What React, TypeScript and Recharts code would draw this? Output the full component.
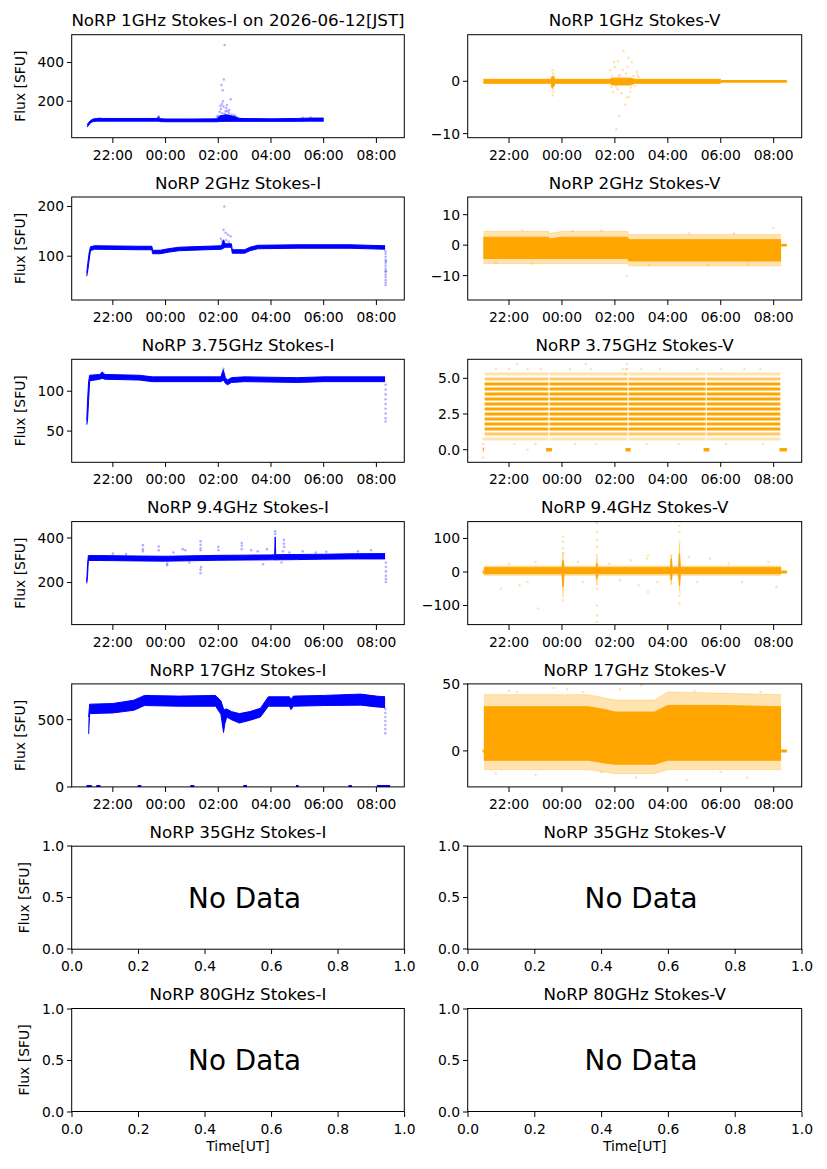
import React from "react";
import { ComposedChart, XAxis, YAxis, Area, Line, Scatter } from "recharts";

type Band = [number, number, number][];
type Pts = [number, number][];
type Segs = [number, number][];

const FONT = "DejaVu Sans, sans-serif";
const BLUE = "#0000ff";
const ORANGE = "#ffa500";

// time in hours from 00:00 UT (negative = previous evening)
const X_DOMAIN: [number, number] = [-3.55, 9.07];
const TIME_TICKS = [-2, 0, 2, 4, 6, 8];
const FRAC_TICKS = [0, 0.2, 0.4, 0.6, 0.8, 1.0];
const HALF_TICKS = [0, 0.5, 1.0];

const TITLES = [
  ["NoRP 1GHz Stokes-I on 2026-06-12[JST]", "NoRP 1GHz Stokes-V"],
  ["NoRP 2GHz Stokes-I", "NoRP 2GHz Stokes-V"],
  ["NoRP 3.75GHz Stokes-I", "NoRP 3.75GHz Stokes-V"],
  ["NoRP 9.4GHz Stokes-I", "NoRP 9.4GHz Stokes-V"],
  ["NoRP 17GHz Stokes-I", "NoRP 17GHz Stokes-V"],
  ["NoRP 35GHz Stokes-I", "NoRP 35GHz Stokes-V"],
  ["NoRP 80GHz Stokes-I", "NoRP 80GHz Stokes-V"],
];

// ---- 1 GHz ----
const I1_BAND: Band = [
  [-2.97, 66, 78], [-2.92, 76, 90], [-2.85, 88, 100], [-2.75, 95, 108], [-2.6, 97, 111],
  [-1.5, 97, 111], [-0.32, 97, 111], [-0.27, 96, 119], [-0.22, 95, 110], [0.0, 94, 108],
  [1.0, 94, 108], [1.95, 94, 109], [2.05, 95, 124], [2.3, 96, 130], [2.6, 96, 121],
  [2.8, 96, 111], [4.0, 96, 109], [5.0, 96, 111], [5.5, 97, 113], [6.0, 97, 113],
];
const I1_PTS: Pts = [
  [2.24, 490], [2.21, 312], [2.12, 284], [2.17, 257], [2.47, 210], [2.14, 185], [2.08, 175],
  [2.2, 172], [2.1, 160], [2.3, 165], [2.35, 150], [2.4, 140], [2.05, 145], [2.25, 135],
  [2.5, 130], [2.6, 128], [2.65, 122], [2.0, 125], [2.15, 138], [2.28, 148], [2.38, 128],
  [2.55, 118], [2.7, 115], [2.8, 112], [-0.27, 118], [-0.25, 121], [5.2, 114], [5.5, 116],
  [-2.5, 112], [1.95, 120], [2.18, 200], [2.33, 180], [2.42, 155],
];
const V1_BAND: Band = [
  [-2.97, -0.38, 0.38], [-0.42, -0.38, 0.38], [-0.37, -1.3, 1.0], [-0.31, -1.0, 0.8],
  [-0.26, -0.38, 0.38], [1.8, -0.38, 0.38], [1.9, -0.7, 0.6], [2.6, -0.7, 0.6],
  [2.75, -0.38, 0.38], [6.0, -0.38, 0.38],
];
const V1_ZERO: Segs = [[6.0, 8.5]];
const V1_PTS: Pts = [
  [-0.36, 2.1], [-0.34, 1.5], [-0.33, -1.5], [-0.35, -2.7], [-0.32, -2.0], [-0.3, 1.0],
  [-0.38, -1.0], [2.33, 5.8], [1.96, 3.7], [2.12, 3.8], [2.52, 4.5], [2.83, 1.8], [2.05, -9.2],
  [2.17, -6.6], [2.44, -3.1], [2.53, -3.0], [1.92, -2.0], [1.87, -1.1], [2.0, 2.7], [1.82, 2.1],
  [2.42, 1.5], [2.64, 3.7], [2.1, -1.5], [2.25, -2.3], [2.3, 2.2], [2.6, -1.2], [2.7, 1.0],
  [2.75, -0.9], [2.2, 1.2], [2.05, -1.0], [2.38, -4.5], [2.48, 2.8], [2.15, 0.9], [1.9, 1.0],
  [2.58, -2.0], [2.9, 0.8], [2.85, 1.2],
];

// ---- 2 GHz ----
const I2_BAND: Band = [
  [-2.99, 60, 67], [-2.95, 72, 86], [-2.9, 92, 107], [-2.85, 111, 119], [-2.7, 114, 121],
  [-1.0, 113, 120], [-0.52, 113, 120], [-0.49, 105, 112], [-0.2, 105, 112], [0.1, 108, 115],
  [0.5, 111, 118], [1.0, 112, 119], [2.12, 114, 121], [2.2, 116, 133], [2.26, 118, 125],
  [2.5, 118, 125], [2.53, 106, 113], [3.0, 106, 113], [3.2, 111, 118], [3.5, 115, 122],
  [5.0, 116, 123], [7.0, 116, 123], [8.33, 114, 121],
];
const I2_PTS: Pts = [
  [2.23, 200], [2.2, 153], [2.28, 147], [2.37, 143], [2.47, 140], [2.1, 135], [2.15, 130],
  [2.3, 132], [2.4, 129], [8.35, 42], [8.35, 47], [8.35, 52], [8.35, 58], [8.35, 63],
  [8.35, 69], [8.35, 75], [8.35, 81], [8.35, 87], [8.35, 93], [8.35, 99], [8.35, 105],
  [8.34, 110], [8.36, 90], [8.36, 70],
];
const V2_FRINGE: Band = [
  [-2.97, -6, 4.5], [-0.5, -6, 4.5], [-0.48, -6, 3.8], [0.0, -6, 4.5], [2.48, -6, 4.5],
  [2.52, -6.8, 3.5], [8.28, -6.8, 3.5],
];
const V2_CORE: Band = [
  [-2.97, -4.4, 2.6], [-0.5, -4.4, 2.6], [-0.48, -4.4, 2.0], [0.0, -4.4, 2.6], [2.48, -4.4, 2.6],
  [2.52, -5.2, 1.8], [8.28, -5.2, 1.8],
];
const V2_ZERO: Segs = [[8.28, 8.5]];
const V2_PTS: Pts = [
  [8.0, 5.6], [2.45, -10.1], [-1.15, -6.2], [1.5, 4.8], [-1.5, 4.9], [0.4, 4.6], [4.8, 3.9],
  [7.0, -6.3], [6.5, 3.8], [-2.5, -5.6], [3.3, -6.5], [5.5, -6.6],
];

// ---- 3.75 GHz ----
const I3_BAND: Band = [
  [-2.99, 58, 63], [-2.96, 64, 88], [-2.92, 88, 112], [-2.88, 113, 120], [-2.5, 115, 121],
  [-2.4, 116, 124], [-2.3, 115, 121], [-1.0, 114, 120], [-0.5, 112, 118], [2.1, 112, 118],
  [2.19, 114, 127], [2.27, 110, 117], [2.35, 108, 114], [2.5, 111, 117], [3.0, 112, 118],
  [5.0, 111, 117], [6.0, 112, 118], [8.33, 112, 118],
];
const I3_PTS: Pts = [
  [8.35, 62], [8.35, 66], [8.35, 72], [8.35, 78], [8.35, 84], [8.35, 90], [8.35, 96],
  [8.35, 102], [8.35, 108], [2.2, 128],
];
const V3_DENSE = [1.45, 1.8, 2.15, 2.5, 2.85, 3.2, 3.55, 3.9, 4.25, 4.6];
const V3_MID = [1.1, 4.95];
const V3_LIGHT = [0.75, 5.3];
const V3_SEGS: Segs = [[-2.92, -0.51], [-0.47, 2.48], [2.52, 5.43], [5.47, 8.25]];
const V3_ZERO: Segs = [[-2.99, -2.95], [-0.6, -0.38], [2.4, 2.6], [5.35, 5.57], [8.22, 8.5]];
const V3_PTS: Pts = [
  [-2.98, -0.55], [-2.98, 0.4], [-2.97, 0.75], [-2.97, 0.1], [-1.8, 0.4], [-1.0, 0.4],
  [0.5, 0.4], [1.3, 0.4], [3.2, 0.4], [4.4, 0.4], [6.2, 0.4], [7.6, 0.4], [-2.5, 5.65],
  [-2.0, 5.65], [-1.3, 5.65], [-0.8, 5.65], [0.3, 5.65], [1.1, 5.65], [2.3, 5.65],
  [2.45, 5.65], [3.0, 5.65], [3.7, 5.65], [5.1, 5.65], [6.0, 5.65], [6.9, 5.65], [7.5, 5.65],
  [2.46, 6.0], [-1.7, 6.0], [0.9, 6.0], [2.4, 5.3], [2.42, 5.65], [-1.3, 0.0],
];

// ---- 9.4 GHz ----
const I4_BAND: Band = [
  [-2.99, 196, 206], [-2.96, 230, 280], [-2.93, 299, 321], [-2.5, 299, 321], [-1.0, 297, 319],
  [0.0, 296, 318], [1.0, 298, 320], [2.0, 300, 322], [3.0, 301, 323], [4.0, 302, 324],
  [4.14, 302, 325], [4.16, 300, 405], [4.18, 302, 325], [5.0, 303, 326], [6.0, 305, 327],
  [7.0, 306, 329], [8.33, 306, 330],
];
const I4_PTS: Pts = [
  [-0.86, 368], [-0.86, 350], [-0.86, 340], [-0.26, 362], [-0.26, 345], [0.06, 278],
  [0.06, 285], [0.65, 350], [0.75, 345], [1.33, 385], [1.33, 370], [1.33, 355], [1.33, 345],
  [1.33, 258], [1.33, 242], [1.35, 270], [2.0, 360], [2.01, 345], [2.89, 378], [2.89, 365],
  [2.89, 350], [3.25, 345], [3.85, 350], [4.16, 430], [4.16, 418], [4.49, 392], [4.49, 375],
  [4.5, 360], [4.45, 340], [3.5, 340], [4.7, 335], [5.2, 340], [5.7, 335], [6.1, 338],
  [0.3, 335], [-1.5, 328], [-2.0, 330], [7.3, 340], [7.8, 345], [3.7, 282], [4.4, 290],
  [0.9, 290], [8.36, 202], [8.36, 215], [8.36, 230], [8.36, 250], [8.36, 270], [8.36, 290],
];
const V4_FRINGE: Band = [
  [-2.95, -10, 18], [0.0, -10, 18], [0.04, -65, 60], [0.08, -10, 18], [1.28, -10, 18],
  [1.32, -40, 45], [1.36, -10, 18], [4.09, -10, 18], [4.13, -35, 50], [4.17, -10, 18],
  [4.4, -10, 18], [4.44, -55, 85], [4.48, -10, 18], [8.28, -10, 18],
];
const V4_CORE: Band = [
  [-2.95, -5, 13], [0.0, -5, 13], [0.04, -45, 35], [0.08, -5, 13], [1.29, -5, 13],
  [1.32, -20, 25], [1.35, -5, 13], [4.1, -5, 13], [4.13, -25, 40], [4.16, -5, 13],
  [4.41, -5, 13], [4.44, -40, 55], [4.47, -5, 13], [8.28, -5, 13],
];
const V4_ZERO: Segs = [[-3.0, -2.95], [8.28, 8.5]];
const V4_PTS: Pts = [
  [0.04, 105], [0.04, 90], [0.04, 70], [0.04, -70], [0.04, -84], [0.05, 55], [1.32, 146],
  [1.32, 120], [1.32, 95], [1.33, 75], [1.32, 50], [1.32, -50], [1.32, -100], [1.32, -149],
  [1.33, -130], [4.13, 50], [4.13, -35], [4.44, 138], [4.44, 120], [4.45, 90], [4.44, -70],
  [4.44, -94], [4.46, -60], [3.25, 50], [3.25, -60], [3.2, 40], [-0.9, -109], [-1.6, -40],
  [-2.3, -50], [-1.0, 30], [2.9, -40], [2.6, 35], [0.6, 30], [0.8, -30], [5.1, -30],
  [5.6, 40], [6.8, -30], [7.8, 30], [8.1, -45], [-2.0, 25], [1.8, 25], [3.6, -30], [4.8, 45],
  [2.2, -25], [-1.3, -30], [6.3, 25],
];

// ---- 17 GHz ----
const I5_BAND: Band = [
  [-2.92, 395, 520], [-2.88, 545, 615], [-2.0, 550, 620], [-1.2, 570, 645], [-0.8, 605, 680],
  [0.5, 600, 675], [1.9, 600, 680], [2.1, 540, 640], [2.2, 405, 580], [2.25, 470, 575],
  [2.32, 520, 580], [2.5, 500, 560], [2.8, 475, 545], [3.2, 495, 560], [3.6, 520, 585],
  [3.9, 600, 670], [4.7, 600, 670], [4.76, 575, 650], [4.85, 600, 675], [6.0, 605, 680],
  [7.4, 608, 690], [8.0, 595, 675], [8.33, 590, 670],
];
const I5_ZERO: Segs = [
  [-3.0, -2.8], [-2.63, -2.47], [-1.06, -0.92], [0.94, 1.09], [2.95, 3.09], [4.95, 5.05],
  [6.94, 7.07], [8.02, 8.52],
];
const I5_PTS: Pts = [
  [8.34, 400], [8.34, 430], [8.34, 460], [8.34, 490], [8.34, 520], [8.34, 550], [8.34, 580],
];
const V5_FRINGE: Band = [
  [-2.95, -14, 42], [1.0, -14, 42], [2.0, -17, 38], [3.5, -17, 38], [4.0, -14, 44], [8.28, -14, 42],
];
const V5_CORE: Band = [
  [-2.95, -7, 33], [1.0, -7, 33], [1.6, -9, 31], [2.0, -10, 29], [3.5, -10, 29], [4.0, -7, 34],
  [6.0, -7, 34], [8.28, -7, 33],
];
const V5_ZERO: Segs = [[-3.0, -2.95], [8.28, 8.5]];
const V5_PTS: Pts = [
  [-2.0, 45], [-0.3, 47], [0.8, 44], [3.0, 49], [5.0, 45], [7.5, 44], [-2.5, -17], [-1.0, -18],
  [2.8, -20], [4.7, -22], [7.0, -20], [1.5, -16], [6.0, -16], [0.2, 46], [2.2, 46], [-1.7, 44],
];

// ---- layout ----
const ROW_TOP = [34.7, 197.0, 359.3, 521.6, 683.9, 846.2, 1008.5];
const AX_H = 103;
const COL_LEFT = [71.7, 467.7];
const COL_W = [332.6, 334];
const YW = 60;
const MT = 14;
const MR = 20;
const XH = 30;

const fmtTime = (h: number) => String(((h % 24) + 24) % 24).padStart(2, "0") + ":00";
const fmtInt = (v: number) => (v < 0 ? "\u2212" + Math.abs(v) : String(v));
const fmt1 = (v: number) => (v < 0 ? "\u2212" + Math.abs(v).toFixed(1) : v.toFixed(1));

const segData = (segs: Segs, level: number) =>
  segs.flatMap(([a, b]) => [
    { t: a, v: level },
    { t: b, v: level },
    { t: b + 0.001, v: null },
  ]);

const tickStyle = { fill: "#000", fontSize: 13.9, fontFamily: FONT };

interface BandLayer { data: Band; op: number }
interface LineLayer { data: { t: number; v: number | null }[]; w: number; op: number }

interface PanelProps {
  row: number;
  col: number;
  yDomain: [number, number];
  yTicks: number[];
  yFmt: (v: number) => string;
  color: string;
  bands?: BandLayer[];
  lines?: LineLayer[];
  pts?: Pts;
}

const dotShape = (color: string) => (p: any) =>
  <circle cx={p.cx} cy={p.cy} r={1.3} fill={color} fillOpacity={0.3} />;

const TimePanel = ({ row, col, yDomain, yTicks, yFmt, color, bands = [], lines = [], pts = [] }: PanelProps) => {
  const w = COL_W[col];
  return (
    <div style={{ position: "absolute", left: COL_LEFT[col] - YW, top: ROW_TOP[row] - MT }}>
      <ComposedChart width={YW + w + MR} height={MT + AX_H + XH} margin={{ top: MT, right: MR, bottom: 0, left: 0 }}>
        <XAxis type="number" dataKey="t" domain={X_DOMAIN} ticks={TIME_TICKS} tickFormatter={fmtTime}
          allowDataOverflow axisLine={false} tickLine={{ stroke: "#000" }} tick={tickStyle}
          tickSize={5} tickMargin={7} height={XH} interval={0} />
        <YAxis type="number" domain={yDomain} ticks={yTicks} tickFormatter={yFmt} allowDataOverflow
          axisLine={false} tickLine={{ stroke: "#000" }} tick={tickStyle} tickSize={5} tickMargin={3}
          width={YW} interval={0} />
        {bands.map((b, i) => (
          <Area key={"b" + i} data={b.data.map(([t, lo, hi]) => ({ t, r: [lo, hi] }))} dataKey="r"
            type="linear" stroke={color} strokeOpacity={b.op} strokeWidth={1} fill={color}
            fillOpacity={b.op} dot={false} activeDot={false} isAnimationActive={false} />
        ))}
        {lines.map((l, i) => (
          <Line key={"l" + i} data={l.data} dataKey="v" type="linear" stroke={color} strokeWidth={l.w}
            strokeOpacity={l.op} dot={false} activeDot={false} connectNulls={false} isAnimationActive={false} />
        ))}
        <Scatter data={pts.map(([t, v]) => ({ t, v }))} dataKey="v" fill={color} shape={dotShape(color)}
          isAnimationActive={false} />
      </ComposedChart>
    </div>
  );
};

const EmptyPanel = ({ row, col }: { row: number; col: number }) => {
  const w = COL_W[col];
  return (
    <div style={{ position: "absolute", left: COL_LEFT[col] - YW, top: ROW_TOP[row] - MT }}>
      <ComposedChart width={YW + w + MR} height={MT + AX_H + XH} margin={{ top: MT, right: MR, bottom: 0, left: 0 }}>
        <XAxis type="number" dataKey="t" domain={[0, 1]} ticks={FRAC_TICKS} tickFormatter={fmt1}
          allowDataOverflow axisLine={false} tickLine={{ stroke: "#000" }} tick={tickStyle}
          tickSize={5} tickMargin={7} height={XH} interval={0} />
        <YAxis type="number" domain={[0, 1]} ticks={HALF_TICKS} tickFormatter={fmt1} allowDataOverflow
          axisLine={false} tickLine={{ stroke: "#000" }} tick={tickStyle} tickSize={5} tickMargin={3}
          width={YW} interval={0} />
        <Scatter data={[]} dataKey="v" isAnimationActive={false} />
      </ComposedChart>
    </div>
  );
};

const stripes = (levels: number[], op: number): LineLayer[] =>
  levels.map((lv) => ({ data: segData(V3_SEGS, lv), w: 3, op }));

export default function App() {
  return (
    <div style={{ position: "absolute", left: 0, top: 0, width: 827, height: 1169, background: "#fff", fontFamily: FONT }}>
      <TimePanel row={0} col={0} yDomain={[10, 542]} yTicks={[200, 400]} yFmt={fmtInt} color={BLUE}
        bands={[{ data: I1_BAND, op: 1 }]} pts={I1_PTS} />
      <TimePanel row={0} col={1} yDomain={[-10.84, 8.85]} yTicks={[-10, 0]} yFmt={fmtInt} color={ORANGE}
        bands={[{ data: V1_BAND, op: 1 }]} lines={[{ data: segData(V1_ZERO, 0), w: 2.7, op: 1 }]} pts={V1_PTS} />

      <TimePanel row={1} col={0} yDomain={[12, 219]} yTicks={[100, 200]} yFmt={fmtInt} color={BLUE}
        bands={[{ data: I2_BAND, op: 1 }]} pts={I2_PTS} />
      <TimePanel row={1} col={1} yDomain={[-18, 15.8]} yTicks={[-10, 0, 10]} yFmt={fmtInt} color={ORANGE}
        bands={[{ data: V2_FRINGE, op: 0.3 }, { data: V2_CORE, op: 1 }]}
        lines={[{ data: segData(V2_ZERO, 0), w: 2.7, op: 1 }]} pts={V2_PTS} />

      <TimePanel row={2} col={0} yDomain={[11.2, 140.4]} yTicks={[50, 100]} yFmt={fmtInt} color={BLUE}
        bands={[{ data: I3_BAND, op: 1 }]} pts={I3_PTS} />
      <TimePanel row={2} col={1} yDomain={[-0.86, 6.35]} yTicks={[0, 2.5, 5]} yFmt={fmt1} color={ORANGE}
        lines={[
          ...stripes(V3_LIGHT, 0.3),
          ...stripes(V3_MID, 0.6),
          ...stripes(V3_DENSE, 1),
          { data: V3_ZERO.flatMap(([a, b]) => segData([[a, b]], 0)), w: 3.5, op: 1 },
        ]}
        pts={V3_PTS} />

      <TimePanel row={3} col={0} yDomain={[9, 472]} yTicks={[200, 400]} yFmt={fmtInt} color={BLUE}
        bands={[{ data: I4_BAND, op: 1 }]} pts={I4_PTS} />
      <TimePanel row={3} col={1} yDomain={[-158, 149]} yTicks={[-100, 0, 100]} yFmt={fmtInt} color={ORANGE}
        bands={[{ data: V4_FRINGE, op: 0.3 }, { data: V4_CORE, op: 1 }]}
        lines={[{ data: segData(V4_ZERO, 0), w: 3, op: 1 }]} pts={V4_PTS} />

      <TimePanel row={4} col={0} yDomain={[0, 765]} yTicks={[0, 500]} yFmt={fmtInt} color={BLUE}
        bands={[{ data: I5_BAND, op: 1 }]} lines={[{ data: segData(I5_ZERO, 0), w: 4, op: 1 }]} pts={I5_PTS} />
      <TimePanel row={4} col={1} yDomain={[-27, 50]} yTicks={[0, 50]} yFmt={fmtInt} color={ORANGE}
        bands={[{ data: V5_FRINGE, op: 0.3 }, { data: V5_CORE, op: 1 }]}
        lines={[{ data: segData(V5_ZERO, 0), w: 3, op: 1 }]} pts={V5_PTS} />

      <EmptyPanel row={5} col={0} />
      <EmptyPanel row={5} col={1} />
      <EmptyPanel row={6} col={0} />
      <EmptyPanel row={6} col={1} />

      <svg width={827} height={1169} style={{ position: "absolute", left: 0, top: 0, pointerEvents: "none" }}>
        {ROW_TOP.map((top, r) =>
          COL_LEFT.map((left, c) => {
            const w = COL_W[c];
            return (
              <g key={r + "-" + c}>
                <rect x={left} y={top} width={w} height={AX_H} fill="none" stroke="#000" strokeWidth={1} />
                <text x={left + w / 2} y={top - 8.3} textAnchor="middle" fontSize={16.7} fontFamily={FONT} fill="#000">
                  {TITLES[r][c]}
                </text>
                {r >= 5 && (
                  <text x={left + 0.35 * w} y={top + AX_H - 0.4 * AX_H} fontSize={27.8} fontFamily={FONT} fill="#000">
                    No Data
                  </text>
                )}
                {c === 0 && (
                  <text transform={`translate(${r >= 5 ? 29 : 25},${top + AX_H / 2}) rotate(-90)`} textAnchor="middle"
                    fontSize={13.9} fontFamily={FONT} fill="#000">
                    Flux [SFU]
                  </text>
                )}
                {r === 6 && (
                  <text x={left + w / 2} y={1150.5} textAnchor="middle" fontSize={13.9} fontFamily={FONT} fill="#000">
                    Time[UT]
                  </text>
                )}
              </g>
            );
          })
        )}
      </svg>
    </div>
  );
}
